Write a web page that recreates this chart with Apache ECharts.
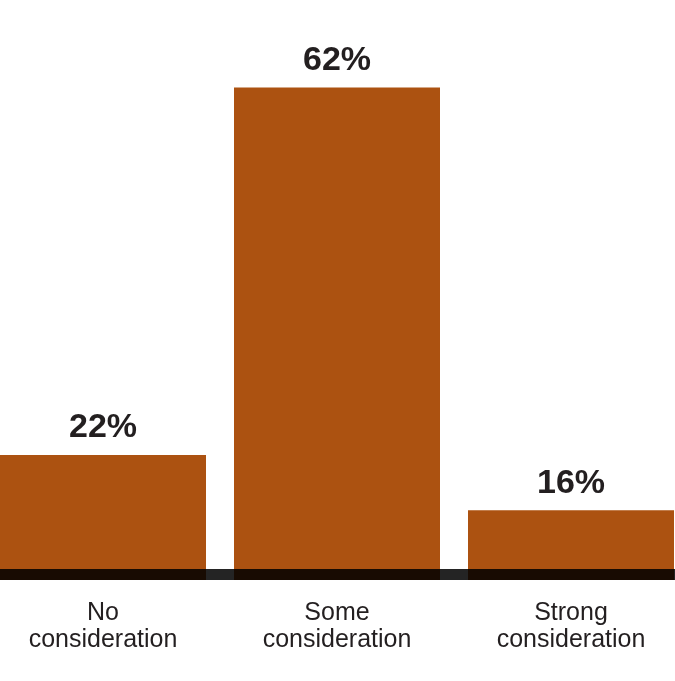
<!DOCTYPE html>
<html>
<head>
<meta charset="utf-8">
<script src="https://cdn.jsdelivr.net/npm/echarts@6/dist/echarts.min.js"></script>
<style>
html,body{margin:0;padding:0;background:#fff;}
#chart{width:675px;height:681px;}
</style>
</head>
<body>
<div id="chart"></div>
<script>
const categories = ['No\nconsideration', 'Some\nconsideration', 'Strong\nconsideration'];
const values = [22, 62, 16];

const chart = echarts.init(document.getElementById('chart'), null, {renderer: 'canvas'});
chart.setOption({
  animation: false,
  backgroundColor: '#ffffff',
  grid: {left: -14, width: 702, top: 14, bottom: 101, containLabel: false, outerBoundsMode: 'none'},
  xAxis: {
    type: 'category',
    data: categories,
    z: 5,
    offset: -5.5,
    axisLine: {lineStyle: {color: 'rgba(0,0,0,0.86)', width: 11}},
    axisTick: {show: false},
    axisLabel: {
      interval: 0,
      margin: 25,
      color: '#231f20',
      fontFamily: '"Liberation Sans", Arial, sans-serif',
      fontSize: 25,
      lineHeight: 27
    }
  },
  yAxis: {
    type: 'value',
    min: 8.4,
    max: 70,
    show: false,
    splitLine: {show: false}
  },
  series: [{
    type: 'bar',
    data: values,
    barWidth: 206,
    itemStyle: {color: '#ac5211'},
    label: {
      show: true,
      position: 'top',
      distance: 10,
      formatter: '{c}%',
      color: '#231f20',
      fontFamily: '"Liberation Sans", Arial, sans-serif',
      fontWeight: 'bold',
      fontSize: 34
    }
  }]
});
</script>
</body>
</html>
